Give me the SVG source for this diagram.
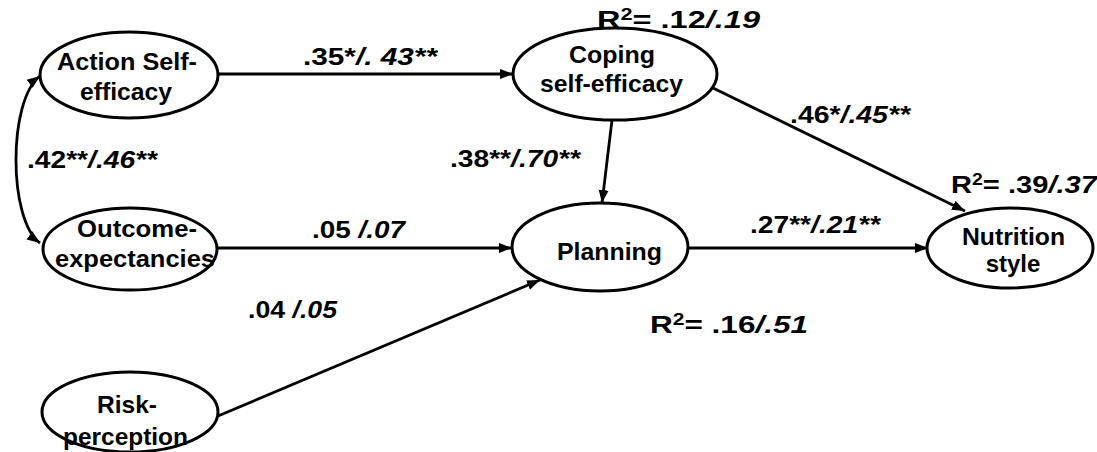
<svg xmlns="http://www.w3.org/2000/svg" width="1097" height="452" viewBox="0 0 1097 452">
<style>
text{font-family:"Liberation Sans",Arial,sans-serif;font-weight:bold;font-size:24px;fill:#000}
.i{font-style:italic}
.sup{font-size:16px}
ellipse{fill:#fff;stroke:#000;stroke-width:3}
.c{fill:none;stroke:#000;stroke-width:2.8}
</style>
<defs>
<marker id="ah" markerUnits="userSpaceOnUse" markerWidth="14" markerHeight="11" refX="13" refY="5.5" orient="auto-start-reverse">
<path d="M0,0.5 L13,5.5 L0,10.5 z" fill="#000"/>
</marker>
</defs>
<rect width="1097" height="452" fill="#fff"/>
<g id="connectors">
<path class="c" d="M218,74 L513,74" marker-end="url(#ah)"/>
<path class="c" d="M217,248 L512,248" marker-end="url(#ah)"/>
<path class="c" d="M218,416 L540,280" marker-end="url(#ah)"/>
<path class="c" d="M612,120 L602,203" marker-end="url(#ah)"/>
<path class="c" d="M713,88 L965,211" marker-end="url(#ah)"/>
<path class="c" d="M688,248 L928,248" marker-end="url(#ah)"/>
<path class="c" d="M40,76 C8,100 8,220 40,243" marker-start="url(#ah)" marker-end="url(#ah)"/>
</g>
<g id="action">
<ellipse cx="129" cy="75" rx="89" ry="43"/>
<text x="57" y="70" textLength="140" lengthAdjust="spacingAndGlyphs">Action Self-</text>
<text x="80" y="100" textLength="92" lengthAdjust="spacingAndGlyphs">efficacy</text>
</g>
<g id="outcome">
<ellipse cx="130" cy="249" rx="87" ry="41"/>
<text x="77" y="237" textLength="120" lengthAdjust="spacingAndGlyphs">Outcome-</text>
<text x="55" y="267" textLength="160" lengthAdjust="spacingAndGlyphs">expectancies</text>
</g>
<g id="risk">
<ellipse cx="130" cy="412" rx="88" ry="40"/>
<text x="97" y="413" textLength="60" lengthAdjust="spacingAndGlyphs">Risk-</text>
<text x="63" y="445" textLength="125" lengthAdjust="spacingAndGlyphs">perception</text>
</g>
<g id="coping">
<ellipse cx="615" cy="74" rx="102" ry="46"/>
<text x="569" y="63" textLength="86" lengthAdjust="spacingAndGlyphs">Coping</text>
<text x="540" y="92" textLength="143" lengthAdjust="spacingAndGlyphs">self-efficacy</text>
</g>
<g id="planning">
<ellipse cx="600" cy="247" rx="88" ry="44"/>
<text x="557" y="260" textLength="105" lengthAdjust="spacingAndGlyphs">Planning</text>
</g>
<g id="nutrition">
<ellipse cx="1010" cy="248" rx="83" ry="40"/>
<text x="962" y="245" textLength="103" lengthAdjust="spacingAndGlyphs">Nutrition</text>
<text x="1013" y="272" text-anchor="middle">style</text>
</g>
<g id="labels">
<text x="597" y="28" textLength="163" lengthAdjust="spacingAndGlyphs">R<tspan class="sup" dy="-8">2</tspan><tspan dy="8">= .12</tspan><tspan class="i">/.19</tspan></text>
<text x="951" y="193" textLength="146" lengthAdjust="spacingAndGlyphs">R<tspan class="sup" dy="-8">2</tspan><tspan dy="8">= .39</tspan><tspan class="i">/.37</tspan></text>
<text x="650" y="333" textLength="158" lengthAdjust="spacingAndGlyphs">R<tspan class="sup" dy="-8">2</tspan><tspan dy="8">= .16</tspan><tspan class="i">/.51</tspan></text>
<text x="303" y="65" textLength="134" lengthAdjust="spacingAndGlyphs">.35*<tspan class="i">/. 43**</tspan></text>
<text x="27" y="168" textLength="130" lengthAdjust="spacingAndGlyphs">.42**<tspan class="i">/.46**</tspan></text>
<text x="450" y="167" textLength="130" lengthAdjust="spacingAndGlyphs">.38**<tspan class="i">/.70**</tspan></text>
<text x="790" y="123" textLength="120" lengthAdjust="spacingAndGlyphs">.46*<tspan class="i">/.45**</tspan></text>
<text x="750" y="233" textLength="130" lengthAdjust="spacingAndGlyphs">.27**<tspan class="i">/.21**</tspan></text>
<text x="312" y="238" textLength="93" lengthAdjust="spacingAndGlyphs">.05 <tspan class="i">/.07</tspan></text>
<text x="248" y="318" textLength="89" lengthAdjust="spacingAndGlyphs">.04 <tspan class="i">/.05</tspan></text>
</g>
</svg>
